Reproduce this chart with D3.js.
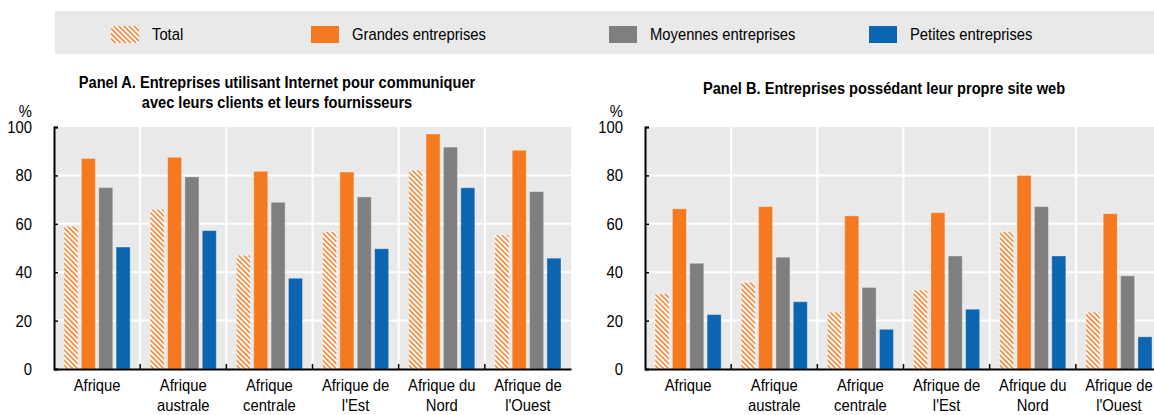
<!DOCTYPE html>
<html>
<head>
<meta charset="utf-8">
<script src="https://cdn.jsdelivr.net/npm/d3@7"></script>
<style>
  body { margin: 0; background: #fff; }
  svg text { font-family: "Liberation Sans", Arial, Helvetica, sans-serif; fill: #000; }
</style>
</head>
<body>
<div id="chart"></div>
<script>
// categories and values
var categories = ["Afrique", "Afrique\naustrale", "Afrique\ncentrale", "Afrique de\nl'Est", "Afrique du\nNord", "Afrique de\nl'Ouest"];
var seriesNames = ["Total", "Grandes entreprises", "Moyennes entreprises", "Petites entreprises"];
var seriesColors = ["url(#hatch)", "#f47920", "#7f7f7f", "#0b65b0"];
var yTicks = [0, 20, 40, 60, 80, 100];

// Panel A
var aTotal    = [59, 66, 47, 56.8, 82.2, 55.4];
var aGrandes  = [87, 87.5, 81.7, 81.4, 97.1, 90.4];
var aMoyennes = [75, 79.4, 68.9, 71.1, 91.7, 73.3];
var aPetites  = [50.4, 57.2, 37.5, 49.7, 74.9, 45.8];

// Panel B
var bTotal    = [31.1, 35.8, 23.5, 32.6, 56.8, 23.5];
var bGrandes  = [66.2, 67.1, 63.3, 64.6, 80, 64.2];
var bMoyennes = [43.7, 46.2, 33.7, 46.7, 67.1, 38.5];
var bPetites  = [22.5, 27.8, 16.4, 24.7, 46.7, 13.3];

var panels = [
  { title: ["Panel A. Entreprises utilisant Internet pour communiquer", "avec leurs clients et leurs fournisseurs"],
    left: 54, titleX: 277, titleY: 88, series: [aTotal, aGrandes, aMoyennes, aPetites] },
  { title: ["Panel B. Entreprises possédant leur propre site web"],
    left: 645, titleX: 884, titleY: 94, series: [bTotal, bGrandes, bMoyennes, bPetites] }
];

var width = 1154, height = 415;
var plotW = 517, plotTop = 127, plotBottom = 369;
var squeeze = 0.87; // narrow font look

var svg = d3.select("#chart").append("svg")
    .attr("width", width)
    .attr("height", height);

// text in a horizontally squeezed group
function label(parent, x, y, size, sx) {
  return parent.append("g")
    .attr("transform", "translate(" + x + "," + y + ") scale(" + (sx || squeeze) + ",1)")
    .append("text")
    .style("font-size", size + "px");
}

// hatch pattern for "Total"
var defs = svg.append("defs");
var pat = defs.append("pattern")
    .attr("id", "hatch")
    .attr("patternUnits", "userSpaceOnUse")
    .attr("width", 3.6)
    .attr("height", 3.6)
    .attr("patternTransform", "rotate(-45)");
pat.append("rect").attr("width", 3.6).attr("height", 3.6).attr("fill", "#fff");
pat.append("line")
    .attr("x1", 0.8).attr("y1", 0).attr("x2", 0.8).attr("y2", 3.6)
    .attr("stroke", "#f47920").attr("stroke-width", 1.5);

// legend
var legend = svg.append("g");
legend.append("rect")
    .attr("x", 55).attr("y", 11)
    .attr("width", width - 55).attr("height", 43)
    .attr("fill", "#e9e9e9");
var legendX = [111, 311, 609, 869];
seriesNames.forEach(function(name, i) {
  legend.append("rect")
    .attr("x", legendX[i]).attr("y", 26)
    .attr("width", 28).attr("height", 17)
    .attr("fill", seriesColors[i]);
  label(legend, legendX[i] + 41, 40, 17).text(name);
});

var y = d3.scaleLinear().domain([0, 100]).range([plotBottom, plotTop]);

panels.forEach(function(p) {
  var g = svg.append("g").attr("transform", "translate(" + p.left + ",0)");

  var x0 = d3.scaleBand().domain(categories).range([0, plotW]);
  var x1 = d3.scaleBand().domain(d3.range(4)).range([10, x0.bandwidth() - 10]).paddingInner(0.19);

  // background
  g.append("rect")
    .attr("x", 0).attr("y", plotTop)
    .attr("width", plotW).attr("height", plotBottom - plotTop)
    .attr("fill", "#e9e9e9");

  // horizontal grid
  g.append("g").selectAll("line")
    .data(yTicks.filter(function(t) { return t > 0 && t < 100; }))
    .enter().append("line")
    .attr("x1", 0).attr("x2", plotW)
    .attr("y1", function(d) { return y(d); }).attr("y2", function(d) { return y(d); })
    .attr("stroke", "#fff").attr("stroke-width", 2);

  // vertical grid at band boundaries
  g.append("g").selectAll("line")
    .data(categories.slice(1))
    .enter().append("line")
    .attr("x1", function(d) { return x0(d); }).attr("x2", function(d) { return x0(d); })
    .attr("y1", plotTop).attr("y2", plotBottom)
    .attr("stroke", "#fff").attr("stroke-width", 2);

  // bars
  var groups = g.append("g").selectAll("g")
    .data(categories)
    .enter().append("g")
    .attr("transform", function(d) { return "translate(" + x0(d) + ",0)"; });
  groups.selectAll("rect")
    .data(function(d, ci) { return p.series.map(function(s, si) { return { si: si, v: s[ci] }; }); })
    .enter().append("rect")
    .attr("x", function(d) { return x1(d.si); })
    .attr("width", x1.bandwidth())
    .attr("y", function(d) { return y(d.v); })
    .attr("height", function(d) { return y(0) - y(d.v); })
    .attr("fill", function(d) { return seriesColors[d.si]; })
    .attr("stroke", "rgba(255,255,255,0.35)")
    .attr("stroke-width", 1);

  // y axis
  var yAxis = g.append("g")
    .call(d3.axisRight(y).tickValues(yTicks).tickSize(4).tickFormat(""));
  yAxis.select(".domain").attr("stroke", "#000").attr("stroke-width", 2);
  yAxis.selectAll(".tick line").attr("stroke", "#000").attr("stroke-width", 1.5);
  yTicks.forEach(function(t) {
    label(g, -22, y(t) + 6, 17).attr("text-anchor", "end").text(t);
  });
  label(g, -22, plotTop - 10, 17).attr("text-anchor", "end").text("%");

  // x axis
  var xAxis = g.append("g")
    .attr("transform", "translate(0," + plotBottom + ")")
    .call(d3.axisBottom(x0).tickSize(0).tickFormat(""));
  xAxis.select(".domain").attr("stroke", "#000").attr("stroke-width", 2);
  xAxis.selectAll(".tick").remove();
  xAxis.selectAll("line.sep")
    .data(categories.slice(1))
    .enter().append("line")
    .attr("class", "sep")
    .attr("x1", function(d) { return x0(d); }).attr("x2", function(d) { return x0(d); })
    .attr("y1", -5).attr("y2", 0)
    .attr("stroke", "#000").attr("stroke-width", 1.5);

  categories.forEach(function(c) {
    var t = label(g, x0(c) + x0.bandwidth() / 2, 391, 17).attr("text-anchor", "middle");
    t.selectAll("tspan")
      .data(c.split("\n"))
      .enter().append("tspan")
      .attr("x", 0)
      .attr("y", function(d, i) { return i * 20; })
      .text(function(d) { return d; });
  });

  // title
  var tt = label(svg, p.titleX, p.titleY, 17, 0.86)
    .attr("text-anchor", "middle")
    .style("font-weight", "bold");
  tt.selectAll("tspan")
    .data(p.title)
    .enter().append("tspan")
    .attr("x", 0)
    .attr("y", function(d, i) { return i * 20; })
    .text(function(d) { return d; });
});
</script>
</body>
</html>
